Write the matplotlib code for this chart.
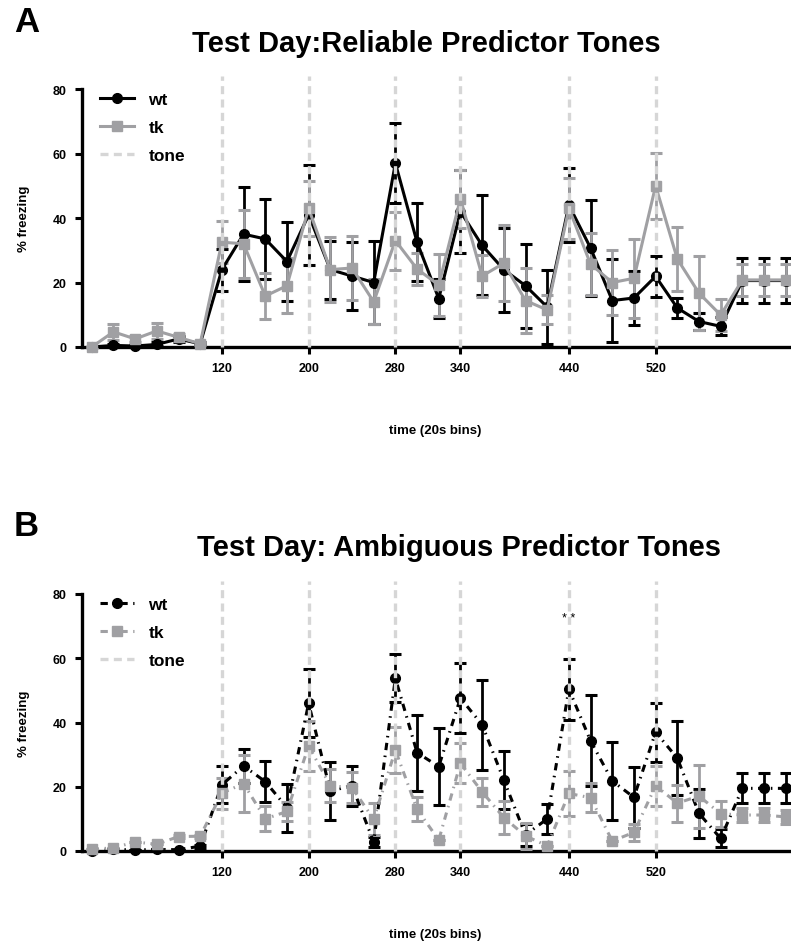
import numpy as np
import matplotlib
matplotlib.use('Agg')
import matplotlib.pyplot as plt
from matplotlib.lines import Line2D

plt.rcParams['font.family'] = ['Liberation Sans', 'DejaVu Sans']
plt.rcParams['font.weight'] = 'bold'

# time bins (s), one point per 20 s bin
bins = [0, 20, 40, 60, 80, 100, 120, 140, 160, 180, 200, 220, 240, 260, 280, 300,
        320, 340, 360, 380, 400, 420, 440, 460, 480, 500, 520, 540, 560, 580, 600,
        620, 640]
tone_onsets = [120, 200, 280, 340, 440, 520]
xtick_labels = ['120', '200', '280', '340', '440', '520']

# panel A: reliable predictor tones
wt_a = [0, 0.5, 0.3, 0.8, 2.5, 1, 24, 35, 33.5, 26.5, 41, 24, 22, 20, 57, 32.5,
        15, 42, 31.5, 24, 19, 12.4, 44, 30.7, 14.4, 15.2, 21.9, 12.1, 7.9, 6.4, 20.6,
        20.6, 20.6]
wt_a_sem = [0, 0.5, 0.3, 0.6, 1, 0.5, 6.5, 14.5, 12.5, 12.3, 15.5, 9, 10.5, 13, 12.5, 12,
            6, 13, 15.5, 13, 13, 11.5, 11.5, 15, 13, 8.5, 6.3, 3, 2.6, 2.8, 7,
            7, 7]
tk_a = [0, 4.7, 2.5, 5, 3, 1, 32.5, 32, 15.8, 19, 43, 24, 24.5, 14, 33, 24.2,
        19.2, 46, 22, 26, 14.4, 11.5, 43, 25.7, 20, 21.3, 50, 27.3, 16.7, 9.9, 20.8,
        20.8, 20.8]
tk_a_sem = [0, 2.5, 1, 2.5, 1, 0.5, 6.5, 10.5, 7, 8.5, 8.6, 10, 10, 7, 9, 5,
            9.5, 9, 6.5, 11.8, 10, 4.5, 9.5, 9.5, 10, 12.3, 10.3, 9.8, 11.5, 5, 5,
            5, 5]

# panel B: ambiguous predictor tones
wt_b = [0, 0.5, 0.3, 0.5, 0.4, 1.5, 20.6, 26.5, 21.6, 13.5, 46, 18.7, 20.3, 2.8, 53.8, 30.6,
        26.3, 47.6, 39.3, 22.1, 5, 10, 50.4, 34.3, 21.8, 16.7, 37, 28.9, 11.7, 3.9, 19.5,
        19.5, 19.5]
wt_b_sem = [0, 0, 0, 0, 0, 0.5, 5.8, 5.3, 6.3, 7.5, 10.5, 9, 6.3, 1.5, 7.5, 11.8,
            12, 10.8, 14, 8.9, 3.5, 4.6, 9.5, 14.2, 12, 9.5, 9.2, 11.6, 7.6, 2.8, 4.7,
            4.7, 4.7]
tk_b = [0.5, 1, 2.8, 2.1, 4.5, 4.6, 18, 21, 10, 12.3, 32.7, 20.3, 19.7, 9.9, 31.4, 13,
        3.4, 27.3, 18.4, 10.4, 4.7, 1.6, 17.9, 16.6, 3.1, 5.8, 20.3, 14.9, 17.1, 11.6, 11.2,
        11.2, 10.6]
tk_b_sem = [0, 0, 0, 0, 0.5, 0.5, 4.8, 8.8, 3.9, 3, 7.7, 5.2, 4.8, 4.9, 7.1, 3.8,
            0, 6.2, 4.3, 5.1, 4, 0, 6.9, 4.5, 0, 2.7, 6.2, 5.8, 9.8, 4, 2.2,
            2.2, 2.3]

BLACK = '#000000'
GREY = '#a0a0a3'
TONE = '#d6d6d6'
DASHDOT = (0, (2.4, 1.8, 0.5, 1.8))
TONE_DASH = (0, (2.4, 1.6))


def draw_panel(ax, wt, wt_sem, tk, tk_sem, ls):
    for mean, sem, col, mk in [(wt, wt_sem, BLACK, 'o'), (tk, tk_sem, GREY, 's')]:
        cont = ax.errorbar(bins, mean, yerr=sem, color=col, ecolor=col, marker=mk,
                           markersize=7, linestyle=ls, linewidth=2.2, elinewidth=2,
                           capsize=4, capthick=2.2, clip_on=False, zorder=3)
        cont.lines[0].set_clip_on(False)
        for art in list(cont.lines[1]) + list(cont.lines[2]):
            art.set_clip_on(False)

    # tone markers sit on top of the data, as in the original
    for t in tone_onsets:
        ax.plot([t, t], [0, 84], color=TONE, linestyle=TONE_DASH, linewidth=2.4,
                clip_on=False, zorder=5)

    ax.set_xlim(-9, 643)
    ax.set_ylim(0, 80)
    ax.set_xticks(tone_onsets)
    ax.set_xticklabels(xtick_labels)
    ax.set_yticks([0, 20, 40, 60, 80])
    for s in ['top', 'right']:
        ax.spines[s].set_visible(False)
    for s in ['left', 'bottom']:
        ax.spines[s].set_linewidth(2.4)
    ax.tick_params(width=2.2, length=5, labelsize=9, pad=6)
    for lab in ax.get_xticklabels() + ax.get_yticklabels():
        lab.set_fontweight('bold')
    ax.set_xlabel('time (20s bins)', fontsize=9.5, fontweight='bold', labelpad=36)
    ax.set_ylabel('% freezing', fontsize=9.5, fontweight='bold', labelpad=16)

    handles = [Line2D([], [], color=BLACK, marker='o', markersize=7, linestyle=ls, linewidth=2.2),
               Line2D([], [], color=GREY, marker='s', markersize=7, linestyle=ls, linewidth=2.2),
               Line2D([], [], color=TONE, linestyle=TONE_DASH, linewidth=2.4)]
    leg = ax.legend(handles, ['wt', 'tk', 'tone'], loc='upper left', bbox_to_anchor=(0.003, 1.05),
                    frameon=False, prop={'size': 12.5, 'weight': 'bold'}, handlelength=2.0,
                    labelspacing=0.75, handletextpad=0.8)
    leg.set_zorder(6)


fig = plt.figure(figsize=(7.91, 9.45), dpi=100)
ax_a = fig.add_axes([82 / 791, 1 - 348 / 945, 707 / 791, 258 / 945])
ax_b = fig.add_axes([82 / 791, 1 - 852 / 945, 707 / 791, 257 / 945])

draw_panel(ax_a, wt_a, wt_a_sem, tk_a, tk_a_sem, '-')
draw_panel(ax_b, wt_b, wt_b_sem, tk_b, tk_b_sem, DASHDOT)

ax_b.text(440, 72.5, '* *', ha='center', va='center', fontsize=9, fontweight='normal')

fig.text(426 / 791, 1 - 44 / 945, 'Test Day:Reliable Predictor Tones', ha='center', va='center',
         fontsize=21, fontweight='bold')
fig.text(459 / 791, 1 - 548 / 945, 'Test Day: Ambiguous Predictor Tones', ha='center', va='center',
         fontsize=21, fontweight='bold')
fig.text(14 / 791, 1 - 22 / 945, 'A', ha='left', va='center', fontsize=25, fontweight='bold')
fig.text(14 / 791, 1 - 527 / 945, 'B', ha='left', va='center', fontsize=25, fontweight='bold')

fig.savefig('out.png', dpi=100)
